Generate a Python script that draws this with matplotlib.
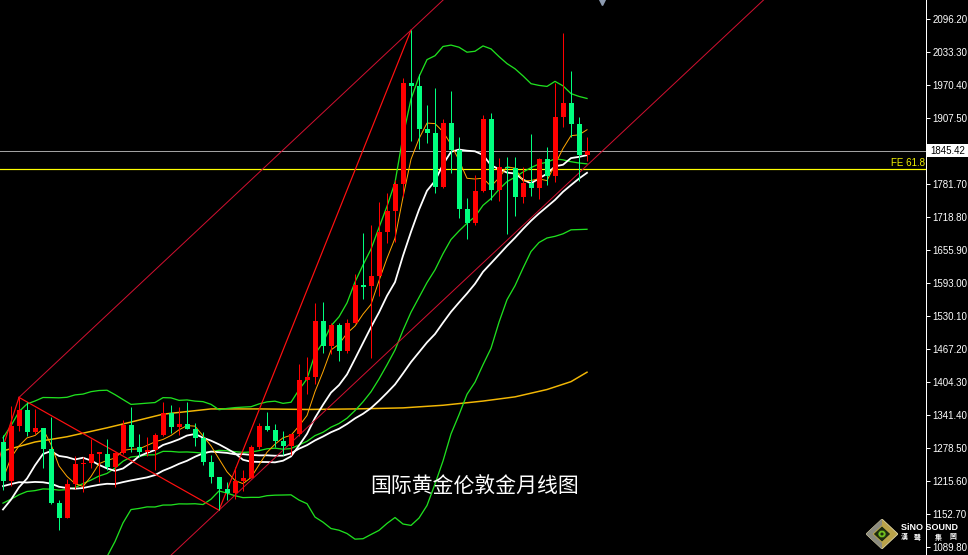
import numpy as np
import pandas as pd
import matplotlib
matplotlib.use("Agg")
import matplotlib.pyplot as plt
from matplotlib.patches import Polygon, Circle, Rectangle
import matplotlib.transforms as mtransforms

# ---------------- data (monthly gold, May 2016 .. Jun 2022) ----------------
months = pd.period_range("2016-05", "2022-06", freq="M").strftime("%Y-%m").tolist()

opens = [1290, 1215, 1321, 1351, 1309, 1316, 1277, 1173,
         1146, 1210, 1248, 1249, 1268, 1268, 1242, 1269, 1322, 1280, 1271, 1275,
         1303, 1345, 1318, 1325, 1315, 1298, 1252, 1223, 1201, 1192, 1215, 1222,
         1281, 1321, 1313, 1292, 1283, 1305, 1409, 1413, 1520, 1472, 1513, 1464,
         1517, 1589, 1588, 1606, 1690, 1730, 1781, 1975, 1968, 1886, 1879, 1776,
         1898, 1847, 1734, 1708, 1769, 1906, 1770, 1814, 1813, 1757, 1783, 1775,
         1829, 1797, 1909, 1937, 1897, 1837]
highs = [1303, 1358, 1375, 1367, 1352, 1317, 1338, 1180,
         1220, 1264, 1261, 1295, 1270, 1296, 1270, 1331, 1357, 1306, 1299, 1307,
         1366, 1361, 1356, 1366, 1326, 1309, 1265, 1224, 1214, 1243, 1237, 1284,
         1326, 1347, 1324, 1310, 1306, 1439, 1452, 1555, 1557, 1517, 1516, 1524,
         1611, 1689, 1704, 1748, 1765, 1789, 1984, 2075, 1992, 1933, 1965, 1906,
         1959, 1871, 1755, 1798, 1913, 1917, 1832, 1834, 1834, 1814, 1877, 1831,
         1853, 1974, 2070, 1998, 1910, 1872]
lows = [1199, 1207, 1310, 1302, 1305, 1241, 1171, 1122,
        1145, 1200, 1195, 1241, 1214, 1236, 1205, 1267, 1271, 1261, 1264, 1236,
        1302, 1307, 1303, 1314, 1282, 1246, 1211, 1160, 1180, 1182, 1196, 1221,
        1276, 1310, 1280, 1266, 1266, 1301, 1382, 1400, 1459, 1458, 1445, 1459,
        1517, 1563, 1451, 1568, 1670, 1671, 1757, 1863, 1848, 1860, 1764, 1775,
        1802, 1717, 1677, 1704, 1766, 1751, 1750, 1687, 1721, 1746, 1758, 1753,
        1780, 1786, 1890, 1872, 1787, 1826]
closes = [1215, 1321, 1351, 1309, 1316, 1277, 1173, 1146,
          1210, 1248, 1249, 1268, 1268, 1242, 1269, 1322, 1280, 1271, 1275, 1303,
          1345, 1318, 1325, 1315, 1298, 1252, 1223, 1201, 1192, 1215, 1222, 1281,
          1321, 1313, 1292, 1283, 1305, 1409, 1413, 1520, 1472, 1513, 1464, 1517,
          1589, 1585, 1606, 1690, 1730, 1781, 1975, 1968, 1886, 1879, 1776, 1898,
          1847, 1734, 1708, 1769, 1906, 1770, 1814, 1813, 1757, 1783, 1775, 1829,
          1797, 1909, 1937, 1897, 1837, 1845.42]
# closes of the 29 months before the first candle (Dec 2013 .. Apr 2016), for the moving averages
prior_closes = [1202, 1244, 1326, 1284, 1296, 1250, 1327, 1282, 1287, 1208, 1171, 1182, 1184,
                1283, 1212, 1183, 1183, 1190, 1172, 1095, 1134, 1115, 1142, 1065, 1061,
                1118, 1238, 1233, 1293]

# long moving average (gold line) at candle indices
long_ma_idx = [0, 4, 8, 13, 16, 20, 26, 32, 38, 44, 50, 55, 60, 64, 68, 71, 73]
long_ma_val = [1273, 1290, 1300, 1317, 1328, 1343, 1353, 1353, 1352, 1353, 1355, 1360,
               1368, 1376, 1390, 1405, 1423]

# trend-line pivots (candle index, price)
pivot_pre = (-5, 1046)
pivot_a = (2, 1375)
pivot_b = (27, 1160)
pivot_c = (51, 2075)

price_ticks = [2096.20, 2033.30, 1970.40, 1907.50, 1781.70, 1718.80, 1655.90, 1593.00,
               1530.10, 1467.20, 1404.30, 1341.40, 1278.50, 1215.60, 1152.70, 1089.80]
current_price = 1845.42
fe_level = 1810.3
fe_label = "FE 61.8"
chart_title = "国际黄金伦敦金月线图"
logo_name = "SiNO SOUND"
logo_chars = ["漢", "聲", "集", "團"]

# ---------------- figure ----------------
W, H = 968, 555
fig = plt.figure(figsize=(W / 100, H / 100), dpi=100, facecolor="black")
ax_right_px = 926
ax = fig.add_axes([0, 0, ax_right_px / W, 1])
ax.set_facecolor("black")
ax.set_xlim(-3 / 8, (ax_right_px - 3) / 8)
ax.set_ylim(1074.6, 2132.4)

n = len(closes)
x = np.arange(n)
o = np.array(opens, float); c = np.array(closes, float)
h = np.array(highs, float); l = np.array(lows, float)

# indicators
allc = pd.Series(prior_closes + closes, dtype=float)
k = len(prior_closes)
ma5 = allc.rolling(5).mean().values[k:]
ma10 = allc.rolling(10).mean().values[k:]
ma20 = allc.rolling(20).mean().values[k:]
sd20 = allc.rolling(20).std(ddof=0).values[k:]
ma30 = allc.rolling(30).mean().values[k:]

PX = 0.72  # one pixel in points
GREEN_BB = "#1fe01f"
ax.plot(long_ma_idx, long_ma_val, color="#f2b705", lw=1.5 * PX, zorder=2)
ax.plot(x, ma20 + 2 * sd20, color=GREEN_BB, lw=1.3 * PX, zorder=2)
ax.plot(x, ma20, color=GREEN_BB, lw=1.3 * PX, zorder=2)
ax.plot(x, ma20 - 2 * sd20, color=GREEN_BB, lw=1.3 * PX, zorder=2)
ax.plot(x, ma30, color="white", lw=1.8 * PX, zorder=2)
ax.plot(x, ma10, color="white", lw=1.8 * PX, zorder=2)
ax.plot(x, ma5, color="#ffa500", lw=1.0 * PX, zorder=2)

# trend lines
RED = "#ff1010"
ax.plot([pivot_pre[0], pivot_a[0]], [pivot_pre[1], pivot_a[1]], color=RED, lw=1.2 * PX, zorder=3)
ax.plot([pivot_a[0], pivot_b[0]], [pivot_a[1], pivot_b[1]], color=RED, lw=1.2 * PX, zorder=3)
ax.plot([pivot_b[0], pivot_c[0]], [pivot_b[1], pivot_c[1]], color=RED, lw=1.2 * PX, zorder=3)
slope = (pivot_c[1] - pivot_a[1]) / (pivot_c[0] - pivot_a[0])
xe = 130
ax.plot([pivot_a[0], xe], [pivot_a[1], pivot_a[1] + slope * (xe - pivot_a[0])],
        color="#d01030", lw=1.0 * PX, zorder=3)
ax.plot([pivot_a[0], xe], [pivot_b[1] + slope * (pivot_a[0] - pivot_b[0]),
                            pivot_b[1] + slope * (xe - pivot_b[0])],
        color="#d01030", lw=1.0 * PX, zorder=3)

# horizontal levels
ax.axhline(current_price, color="#a0a0a0", lw=1.0 * PX, zorder=1)
ax.axhline(fe_level, color="#ffff00", lw=1.2 * PX, zorder=1)

# candles
UP, DN = "#ff0000", "#00ff7f"
cols = [UP if cc >= oo else DN for oo, cc in zip(o, c)]
ax.vlines(x, l, h, colors=cols, lw=1.0 * PX, zorder=4)
body_h = np.maximum(np.abs(c - o), 2.0)
body_b = np.minimum(o, c)
ax.bar(x, body_h, bottom=body_b, width=5 / 8, color=cols, linewidth=0, zorder=5)

# axis styling
for s in ["left", "top", "bottom"]:
    ax.spines[s].set_visible(False)
ax.spines["right"].set_color("white")
ax.spines["right"].set_linewidth(1.0 * PX)
ax.set_xticks([])
ax.yaxis.tick_right()
ax.set_yticks(price_ticks)
ax.set_yticklabels([f"{v:.2f}" for v in price_ticks])
ax.tick_params(axis="y", colors="white", length=4 * PX, width=1.0 * PX, pad=2,
               labelsize=7)
for t in ax.get_yticklabels():
    t.set_fontfamily("Liberation Sans")

# current-price box on the axis
y_cur = ax.transData.transform((0, current_price))[1]  # pixels from bottom
fig.add_artist(Rectangle((927 / W, (y_cur - 6.5) / H), 41 / W, 13 / H,
                         transform=fig.transFigure, facecolor="white", edgecolor="none",
                         zorder=10))
fig.text(930 / W, y_cur / H, f"{current_price:.2f}", ha="left", va="center", fontsize=7,
         color="black", family="Liberation Sans", zorder=11)

tr = mtransforms.blended_transform_factory(ax.transAxes, ax.transData)
ax.text(0.9985, fe_level + 1.5, fe_label, transform=tr, ha="right", va="bottom",
        fontsize=7, color="#f0f000", family="Liberation Sans", zorder=10)

# top marker
ax.plot([602 / ax_right_px], [0.996], marker="v", ms=4, color="#8d9bb0",
        transform=ax.transAxes, clip_on=False, zorder=10)

# title text
fig.text(475 / W, 1 - 487 / H, chart_title, ha="center", va="center", fontsize=15,
         color="white", family=["Noto Sans CJK SC", "DejaVu Sans"], zorder=20)

# logo
lax = fig.add_axes([866 / W, 1 - 549 / H, 32 / W, 30 / H])
lax.set_xlim(-1, 1); lax.set_ylim(-1, 1); lax.axis("off")
lax.add_patch(Polygon([[0, 1], [1, 0], [0, -1], [-1, 0]], closed=True, facecolor="#b9a24a",
                      edgecolor="#e0d7a8", lw=0.6))
lax.add_patch(Polygon([[0, 1], [-1, 0], [0, -1]], closed=True, facecolor="#8a8a80"))
lax.add_patch(Polygon([[0, 0.55], [0.55, 0], [0, -0.55], [-0.55, 0]], closed=True,
                      facecolor="#1d2a10", edgecolor="#c8b24a", lw=0.6))
lax.add_patch(Circle((0, 0), 0.25, facecolor="#6fbf1f", edgecolor="#2a3a10", lw=0.5))
lax.add_patch(Circle((0, 0), 0.1, facecolor="#1d2a10"))
fig.text(901 / W, 1 - 527 / H, logo_name, ha="left", va="center", fontsize=6.5,
         fontweight="bold", color="white", family="Liberation Sans", zorder=20)
for xp, ch in zip([904, 917, 938, 953], logo_chars):
    fig.text(xp / W, 1 - 537 / H, ch, ha="center", va="center", fontsize=5,
             fontweight="bold", color="white",
             family=["Noto Sans CJK TC", "DejaVu Sans"], zorder=20)

fig.savefig("out.png", dpi=100, facecolor="black")
